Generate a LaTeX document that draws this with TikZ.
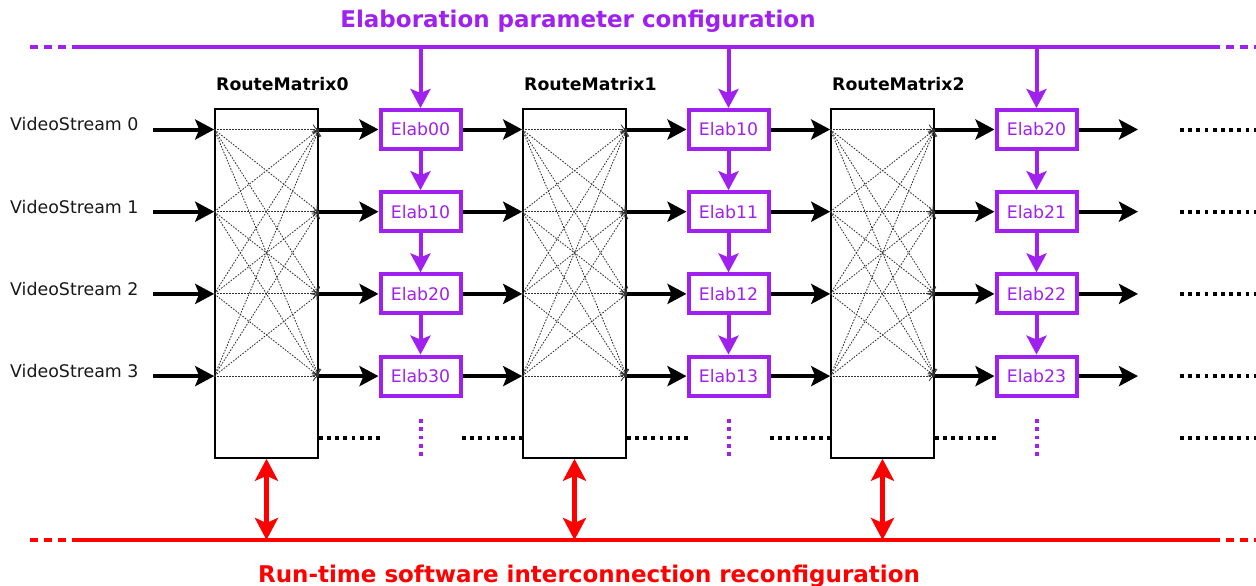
\documentclass[tikz,border=0pt]{standalone}
\usepackage{fontspec}
\setmainfont{DejaVu Sans}
\usetikzlibrary{arrows.meta,calc}
\definecolor{elabpurple}{RGB}{160,32,240}
\definecolor{cfgred}{RGB}{255,0,0}
\begin{document}
\begin{tikzpicture}[x=1pt,y=-1pt,
  flow/.style={line width=4pt,-{Stealth[length=19pt,width=20pt,inset=4pt]}},
  pflow/.style={elabpurple,line width=4pt,-{Stealth[length=19pt,width=20pt,inset=4pt]}},
  rflow/.style={cfgred,line width=4.5pt,{Stealth[length=22pt,width=23pt,inset=5pt]}-{Stealth[length=22pt,width=23pt,inset=5pt]}},
  elab/.style={draw=elabpurple,line width=4pt,minimum width=80pt,minimum height=39pt,inner sep=0pt,text=elabpurple,font=\fontsize{17.3}{20}\selectfont},
  matrixbox/.style={draw=black,line width=1.6pt,minimum width=103pt,minimum height=349pt,inner sep=0pt},
  xbar/.style={dash pattern=on 1.6pt off 1.4pt,line width=0.85pt,black!80,-{To[length=6pt,width=10pt]}},
  streamlbl/.style={anchor=west,inner sep=0pt,font=\fontsize{17.4}{20}\selectfont,text=black!90},
  mlbl/.style={anchor=west,inner sep=0pt,font=\bfseries\fontsize{17.3}{20}\selectfont},
  bdots/.style={line width=4pt,dash pattern=on 3.8pt off 4.4pt},
  pdots/.style={elabpurple,line width=4pt,dash pattern=on 3.8pt off 4.4pt},
  bus/.style={line width=4pt},
  busends/.style={line width=4pt,dash pattern=on 8pt off 6pt},
]
\useasboundingbox (0,0) rectangle (1256,586);

% row coordinates
\foreach \i/\y in {0/129.5,1/211.7,2/293.9,3/376.1}{
  \coordinate (r\i) at (0,\y);
}
\coordinate (rd) at (0,437.5);

% titles
\node[elabpurple,font=\bfseries\fontsize{23}{27}\selectfont] (ttop) at (578,21.5) {Elaboration parameter configuration};
\node[cfgred,font=\bfseries\fontsize{23}{27}\selectfont] (tbot) at (589,576) {Run-time software interconnection reconfiguration};

% buses
\coordinate (pa) at (30,47); \coordinate (pb) at (72,47);
\coordinate (pc) at (1220,47); \coordinate (pd) at (1256,47);
\draw[bus,elabpurple] (pb) -- (pc);
\draw[busends,elabpurple] (pa) -- (66,47);
\draw[busends,elabpurple] (1226,47) -- (pd);
\coordinate (ra) at (30,540); \coordinate (rb) at (72,540);
\coordinate (rc) at (1220,540); \coordinate (rdd) at (1256,540);
\draw[bus,cfgred] (rb) -- (rc);
\draw[busends,cfgred] (ra) -- (66,540);
\draw[busends,cfgred] (1226,540) -- (rdd);

% stream labels and inputs
\foreach \i in {0,1,2,3}{
  \node[streamlbl] (vs\i) at ($(10,-5)+(r\i)$) {VideoStream \i};
  \coordinate (in\i) at ($(153,0)+(r\i)$);
}

% route matrices
\foreach \k in {0,1,2}{
  \node[matrixbox] (m\k) at ({266.5+308*\k},283.5) {};
  \node[mlbl] (ml\k) at ({216+308*\k},84) {RouteMatrix\k};
  \foreach \i in {0,1,2,3}{
    \foreach \j in {0,1,2,3}{
      \draw[xbar] (m\k.west |- r\i) -- (m\k.east |- r\j);
    }
  }
  \draw[rflow] (m\k.south) -- (m\k.south |- rb);
}

% elaboration boxes
\foreach \k/\a/\b/\c/\d in {0/00/10/20/30,1/10/11/12/13,2/20/21/22/23}{
  \node[elab] (e\k0) at ({420.5+308*\k},129.5) {Elab\a};
  \node[elab] (e\k1) at ({420.5+308*\k},211.7) {Elab\b};
  \node[elab] (e\k2) at ({420.5+308*\k},293.9) {Elab\c};
  \node[elab] (e\k3) at ({420.5+308*\k},376.1) {Elab\d};
  \draw[pflow] (e\k0.north |- pb) -- (e\k0.north);
  \draw[pflow] (e\k0.south) -- (e\k1.north);
  \draw[pflow] (e\k1.south) -- (e\k2.north);
  \draw[pflow] (e\k2.south) -- (e\k3.north);
  \draw[pdots] ($(e\k3.south)+(0,21.5)$) -- ($(e\k3.south)+(0,60)$);
  \foreach \i in {0,1,2,3}{
    \draw[flow] (m\k.east |- r\i) -- (e\k\i.west);
  }
}

% links between stages
\foreach \i in {0,1,2,3}{
  \draw[flow] (in\i) -- (m0.west |- in\i);
  \draw[flow] (e0\i.east) -- (m1.west |- r\i);
  \draw[flow] (e1\i.east) -- (m2.west |- r\i);
  \coordinate (out\i) at ($(1138,0)+(r\i)$);
  \draw[flow] (e2\i.east) -- (out\i);
  \coordinate (dA\i) at ($(1180,0)+(r\i)$);
  \coordinate (dB\i) at ($(1260,0)+(r\i)$);
  \draw[bdots] (dA\i) -- (dB\i);
}

% dotted continuation row
\draw[bdots] (m0.east |- rd) -- ($(381,0)+(rd)$);
\draw[bdots] ($(462,0)+(rd)$) -- (m1.west |- rd);
\draw[bdots] (m1.east |- rd) -- ($(689,0)+(rd)$);
\draw[bdots] ($(770,0)+(rd)$) -- (m2.west |- rd);
\draw[bdots] (m2.east |- rd) -- ($(997,0)+(rd)$);
\draw[bdots] ($(1180,0)+(rd)$) -- ($(1260,0)+(rd)$);
\end{tikzpicture}
\end{document}
